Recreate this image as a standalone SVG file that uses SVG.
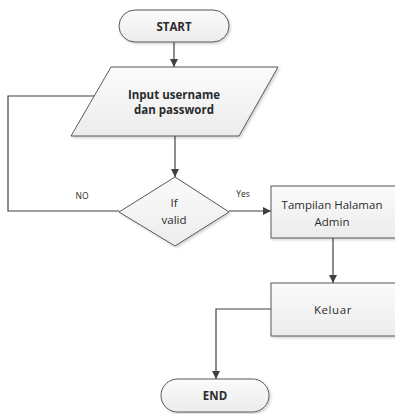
<svg xmlns="http://www.w3.org/2000/svg" width="395" height="414" viewBox="0 0 395 414">
  <style>
    .shape { fill: url(#fillGrad); stroke: #595959; stroke-width: 1; filter: url(#shadow); }
    .edge { fill: none; stroke: #404040; stroke-width: 1.2; }
    text { font-family: "Open Sans", "DejaVu Sans", sans-serif; fill: #2b2b2b; text-anchor: middle; dominant-baseline: central; }
    .bold { font-weight: bold; font-size: 11.5px; }
    .norm { font-size: 11.5px; }
    .wide { letter-spacing: 0.6px; }
    .lbl { font-size: 8.5px; }
  </style>
  <defs>
    <linearGradient id="fillGrad" x1="0" y1="0" x2="0" y2="1">
      <stop offset="0" stop-color="#fbfbfb"/>
      <stop offset="1" stop-color="#ececec"/>
    </linearGradient>
    <filter id="shadow" x="-10%" y="-10%" width="125%" height="130%">
      <feDropShadow dx="1.5" dy="1.5" stdDeviation="1" flood-color="#000" flood-opacity="0.18"/>
    </filter>
    <marker id="arrow" viewBox="0 0 10 10" refX="10" refY="5" markerWidth="8" markerHeight="8" markerUnits="userSpaceOnUse" orient="auto">
      <path d="M0,0 L10,5 L0,10 z" fill="#404040"/>
    </marker>
  </defs>

  <!-- connectors -->
  <g id="connectors">
    <line class="edge" x1="174" y1="42" x2="174" y2="67" marker-end="url(#arrow)"/>
    <line class="edge" x1="175" y1="136" x2="175" y2="177" marker-end="url(#arrow)"/>
    <polyline class="edge" points="119,211 8,211 8,96 94,96"/>
    <line class="edge" x1="229" y1="211" x2="271" y2="211" marker-end="url(#arrow)"/>
    <line class="edge" x1="333" y1="238" x2="333" y2="283" marker-end="url(#arrow)"/>
    <polyline class="edge" points="271,309 216,309 216,379" marker-end="url(#arrow)"/>
    <text class="lbl" x="82" y="195">NO</text>
    <text class="lbl" x="243" y="193">Yes</text>
  </g>

  <g id="start">
    <rect class="shape" x="119" y="10" width="110" height="32" rx="16" ry="16"/>
    <text class="bold" x="174" y="26">START</text>
  </g>

  <g id="input">
    <polygon class="shape" points="111,67 278,67 239,136 71,136"/>
    <text class="bold" x="174" y="94">Input username</text>
    <text class="bold" x="174" y="109">dan password</text>
  </g>

  <g id="decision">
    <polygon class="shape" points="175,177 229,212 175,246 119,212"/>
    <text class="norm" x="174" y="202">If</text>
    <text class="norm" x="174" y="219">valid</text>
  </g>

  <g id="admin">
    <rect class="shape" x="271" y="186" width="134" height="52"/>
    <text class="norm" x="332" y="204">Tampilan Halaman</text>
    <text class="norm" x="332" y="221">Admin</text>
  </g>

  <g id="keluar">
    <rect class="shape" x="271" y="283" width="134" height="53"/>
    <text class="norm wide" x="333" y="309">Keluar</text>
  </g>

  <g id="end">
    <rect class="shape" x="161" y="379" width="108" height="33" rx="16.5" ry="16.5"/>
    <text class="bold" x="215" y="395">END</text>
  </g>
</svg>
